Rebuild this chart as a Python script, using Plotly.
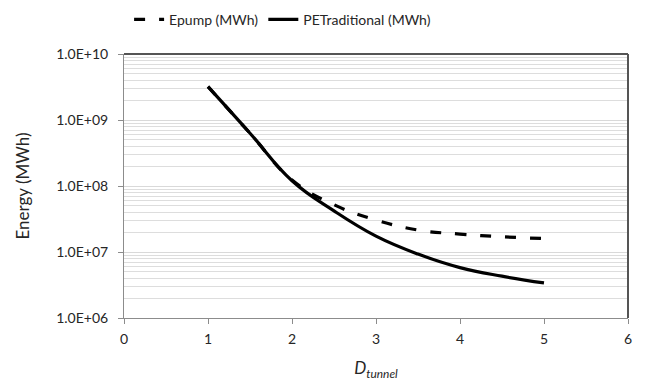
import plotly.graph_objects as go

d_tunnel = [1.0, 1.5, 2.0, 2.5, 3.0, 3.5, 4.0, 4.5, 5.0]
epump = [3.2e9, 6.3e8, 1.23e8, 5.2e7, 3.05e7, 2.15e7, 1.87e7, 1.7e7, 1.6e7]
pe_traditional = [3.2e9, 6.3e8, 1.2e8, 4.2e7, 1.74e7, 9.3e6, 5.8e6, 4.3e6, 3.4e6]

y_tickvals = [1e6, 1e7, 1e8, 1e9, 1e10]
y_ticktext = ["1.0E+06", "1.0E+07", "1.0E+08", "1.0E+09", "1.0E+10"]
x_tickvals = [0, 1, 2, 3, 4, 5, 6]

font_family = "Lato, 'Open Sans', sans-serif"
text_color = "#262626"

fig = go.Figure()
fig.add_trace(go.Scatter(
    x=d_tunnel, y=epump, mode="lines", name="Epump (MWh)",
    line=dict(color="black", width=3.2, dash="11px,14px", shape="spline", smoothing=1.2),
))
fig.add_trace(go.Scatter(
    x=d_tunnel, y=pe_traditional, mode="lines", name="PETraditional (MWh)",
    line=dict(color="black", width=3.2, shape="spline", smoothing=1.2),
))

fig.update_layout(
    width=652, height=381,
    margin=dict(l=124, r=24, t=54, b=63),
    paper_bgcolor="white", plot_bgcolor="white",
    font=dict(family=font_family, size=14, color=text_color),
    showlegend=True,
    legend=dict(orientation="h", x=0.198, xanchor="left", xref="container",
                y=0.99, yanchor="top", yref="container",
                font=dict(size=14, color=text_color), bgcolor="rgba(0,0,0,0)",
                itemwidth=30, tracegroupgap=0),
    xaxis=dict(
        range=[0, 6], tickvals=x_tickvals, showgrid=False, zeroline=False,
        showline=True, linecolor="#8c8c8c", linewidth=1, mirror=False,
        ticks="outside", ticklen=5, tickcolor="#8c8c8c", ticklabelstandoff=3,
        tickfont=dict(size=14), automargin=False,
        title=dict(text="<i>D<sub>tunnel</sub></i>", font=dict(size=17, color=text_color), standoff=27),
    ),
    yaxis=dict(
        type="log", range=[6, 10], tickvals=y_tickvals, ticktext=y_ticktext,
        showgrid=True, gridcolor="#d9d9d9", gridwidth=1,
        minor=dict(dtick="D1", showgrid=True, gridcolor="#dddddd", gridwidth=1, ticks=""),
        showline=True, linecolor="#8c8c8c", linewidth=1,
        ticks="outside", ticklen=5, tickcolor="#8c8c8c", ticklabelstandoff=7,
        tickfont=dict(size=14), automargin=False,
        title=dict(text="Energy (MWh)", font=dict(size=17, color=text_color), standoff=22),
    ),
)

# frame on top and right (chart border)
fig.add_shape(type="line", xref="paper", yref="paper", x0=0, x1=1, y0=1, y1=1,
              line=dict(color="#555555", width=2))
fig.add_shape(type="line", xref="paper", yref="paper", x0=1, x1=1, y0=0, y1=1,
              line=dict(color="#555555", width=2))

fig.write_html("out.html")
